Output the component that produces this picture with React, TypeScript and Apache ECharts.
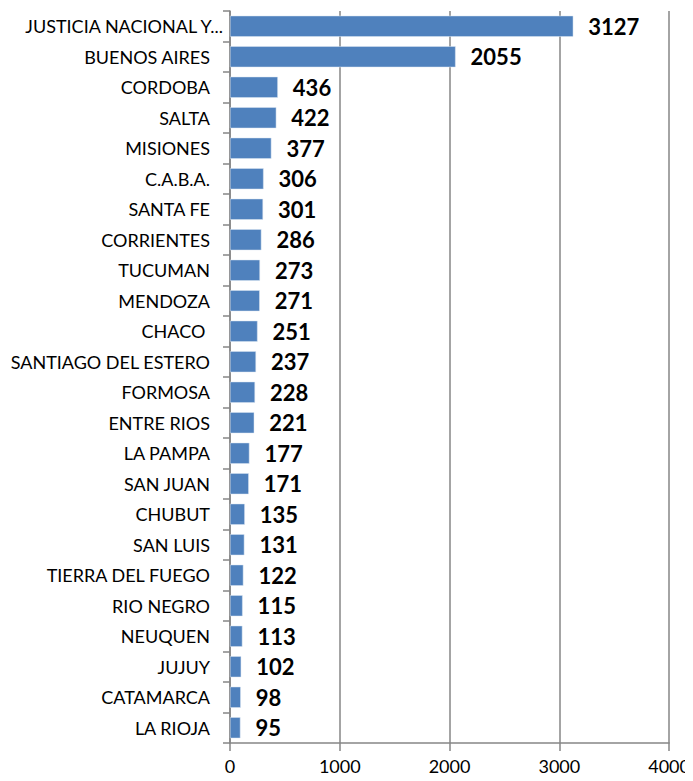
import React, { useEffect, useRef } from "react";
import * as echarts from "echarts";

const categories = [
  "JUSTICIA NACIONAL Y...",
  "BUENOS AIRES",
  "CORDOBA",
  "SALTA",
  "MISIONES",
  "C.A.B.A.",
  "SANTA FE",
  "CORRIENTES",
  "TUCUMAN",
  "MENDOZA",
  "CHACO ",
  "SANTIAGO DEL ESTERO",
  "FORMOSA",
  "ENTRE RIOS",
  "LA PAMPA",
  "SAN JUAN",
  "CHUBUT",
  "SAN LUIS",
  "TIERRA DEL FUEGO",
  "RIO NEGRO",
  "NEUQUEN",
  "JUJUY",
  "CATAMARCA",
  "LA RIOJA",
];

const values = [
  3127, 2055, 436, 422, 377, 306, 301, 286, 273, 271, 251, 237, 228, 221, 177,
  171, 135, 131, 122, 115, 113, 102, 98, 95,
];

const xTicks = { min: 0, max: 4000, interval: 1000 };

const FONT = "Lato, 'Open Sans', sans-serif";

export default function App() {
  const ref = useRef<HTMLDivElement>(null);
  useEffect(() => {
    if (!ref.current) return;
    const chart = echarts.init(ref.current, undefined, { renderer: "svg" });
    chart.setOption({
      animation: false,
      grid: { left: 230, right: 23, top: 11, bottom: 38, containLabel: false },
      xAxis: {
        type: "value",
        min: xTicks.min,
        max: xTicks.max,
        interval: xTicks.interval,
        axisLine: { show: true, lineStyle: { color: "#868686", width: 1.5 } },
        axisTick: { show: true, length: 8, lineStyle: { color: "#868686", width: 1.5 } },
        splitLine: { show: true, lineStyle: { color: "#868686", width: 1.5 } },
        axisLabel: {
          color: "#000",
          fontFamily: FONT,
          fontSize: 18,
          margin: 14,
          formatter: (v: number) => String(v),
        },
      },
      yAxis: {
        type: "category",
        data: categories,
        inverse: true,
        axisLine: { show: true, lineStyle: { color: "#868686", width: 1.5 } },
        axisTick: { show: true, length: 7, lineStyle: { color: "#868686", width: 1.5 } },
        axisLabel: {
          color: "#000",
          fontFamily: FONT,
          fontSize: 18,
          margin: 7,
          formatter: (v: string) => (v.startsWith("JUSTICIA") ? v : `${v}{s| }`),
          rich: { s: { width: 13 } },
        },
      },
      series: [
        {
          type: "bar",
          data: values,
          barCategoryGap: "31%",
          itemStyle: { color: "#4F81BD", borderColor: "#DCE6F2", borderWidth: 0.5 },
          label: {
            show: true,
            position: "right",
            distance: 15,
            color: "#000",
            fontFamily: FONT,
            fontWeight: "bold",
            fontSize: 22,
          },
        },
      ],
    });
    return () => chart.dispose();
  }, []);
  return <div ref={ref} style={{ width: 693, height: 781, marginLeft: -8, marginTop: -8 }} />;
}
